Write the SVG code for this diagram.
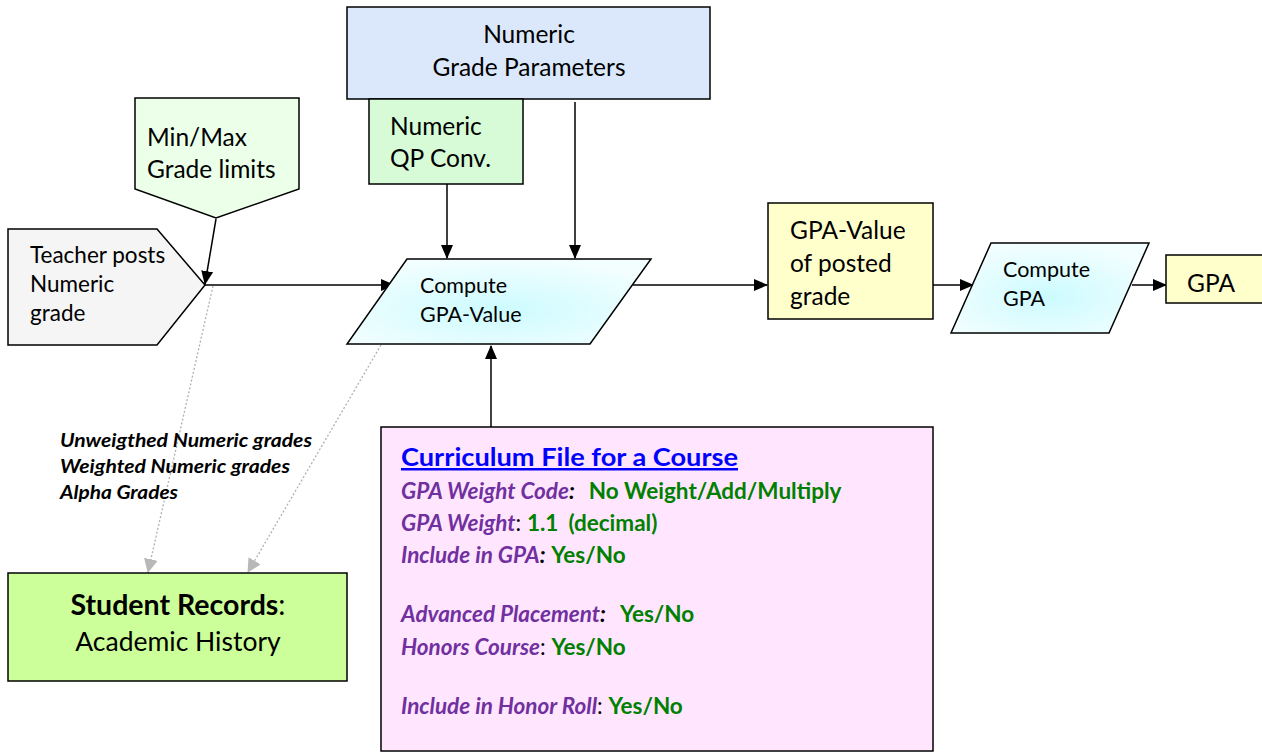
<svg xmlns="http://www.w3.org/2000/svg" width="1262" height="752" viewBox="0 0 1262 752">
<style>
text{font-family:Lato,"Open Sans","Liberation Sans",sans-serif;fill:#000}
.n{stroke:#000;stroke-width:1.5}
.c{stroke:#000;stroke-width:1.5;fill:none}
.d{stroke:#b0b0b0;stroke-width:1.3;stroke-dasharray:2 2;fill:none}
.t22{font-size:24.5px}
.t20{font-size:22.5px}
.t19{font-size:21.5px}
.lab{font-size:19px;font-weight:bold;font-style:italic}
.p{fill:#7030a0;font-style:italic;font-weight:bold}
.g{fill:#008000;font-weight:bold}
.cf{font-size:22.5px}
</style>
<defs>
<radialGradient id="cy" cx="0.5" cy="0.6" r="0.6">
<stop offset="0" stop-color="#ccfbff"/>
<stop offset="1" stop-color="#f2feff"/>
</radialGradient>
<marker id="ag" markerWidth="14" markerHeight="14" refX="13" refY="7" orient="auto" markerUnits="userSpaceOnUse" viewBox="0 0 14 14">
<path d="M0,0 L14,7 L0,14 z" fill="#b8b8b8"/>
</marker>
<marker id="ab" markerWidth="14" markerHeight="14" refX="13" refY="7" orient="auto" markerUnits="userSpaceOnUse" viewBox="0 0 14 14">
<path d="M0,1 L14,7 L0,13 z" fill="#000"/>
</marker>
</defs>

<g id="connectors">
<line class="c" x1="447" y1="184" x2="447" y2="258" marker-end="url(#ab)"/>
<line class="c" x1="575" y1="102" x2="575" y2="258" marker-end="url(#ab)"/>
<line class="c" x1="216" y1="219" x2="205" y2="284" marker-end="url(#ab)"/>
<line class="c" x1="205" y1="285" x2="394" y2="285" marker-end="url(#ab)"/>
<line class="c" x1="633" y1="285" x2="767" y2="285" marker-end="url(#ab)"/>
<line class="c" x1="933" y1="285" x2="973" y2="285" marker-end="url(#ab)"/>
<line class="c" x1="1132" y1="285" x2="1166" y2="285" marker-end="url(#ab)"/>
<line class="c" x1="491" y1="427" x2="491" y2="346" marker-end="url(#ab)"/>
<line class="d" x1="213" y1="286" x2="148" y2="572" marker-end="url(#ag)"/>
<line class="d" x1="381" y1="345" x2="248" y2="572" marker-end="url(#ag)"/>
</g>

<g id="grade-params">
<rect class="n" x="347" y="7" width="363" height="92" fill="#dbe8fb"/>
<text class="t22" x="529" y="43" text-anchor="middle">Numeric</text>
<text class="t22" x="529" y="76" text-anchor="middle">Grade Parameters</text>
</g>

<g id="qp-conv">
<rect class="n" x="369" y="99" width="154" height="85" fill="#d6fbd6"/>
<text class="t22" x="390" y="135">Numeric</text>
<text class="t22" x="390" y="167">QP Conv.</text>
</g>

<g id="minmax">
<path class="n" d="M135,98 L299,98 L299,189 L216,218 L135,189 Z" fill="#ebffe9"/>
<text class="t22" x="147" y="146">Min/Max</text>
<text class="t22" x="147" y="178">Grade limits</text>
</g>

<g id="teacher">
<path class="n" d="M8,229 L157,229 L205,285 L157,345 L8,345 Z" fill="#f5f5f5"/>
<text class="t20" x="30" y="263">Teacher posts</text>
<text class="t20" x="30" y="292">Numeric</text>
<text class="t20" x="30" y="321">grade</text>
</g>

<g id="compute-gpa-value">
<path class="n" d="M407,259 L651,259 L590,344 L347,344 Z" fill="url(#cy)"/>
<text class="t19" x="420" y="293">Compute</text>
<text class="t19" x="420" y="322">GPA-Value</text>
</g>

<g id="gpa-value">
<rect class="n" x="768" y="203" width="165" height="116" fill="#ffffcc"/>
<text class="t22" x="790" y="239">GPA-Value</text>
<text class="t22" x="790" y="272">of posted</text>
<text class="t22" x="790" y="305">grade</text>
</g>

<g id="compute-gpa">
<path class="n" d="M991,243 L1149,243 L1109,333 L951,333 Z" fill="url(#cy)"/>
<text class="t19" x="1003" y="277">Compute</text>
<text class="t19" x="1003" y="306">GPA</text>
</g>

<g id="gpa">
<rect class="n" x="1166" y="255" width="110" height="48" fill="#ffffcc"/>
<text class="t22" x="1187" y="292">GPA</text>
</g>

<g id="history-label">
<text class="lab" x="60" y="447" textLength="252" lengthAdjust="spacingAndGlyphs">Unweigthed Numeric grades</text>
<text class="lab" x="60" y="473" textLength="230" lengthAdjust="spacingAndGlyphs">Weighted Numeric grades</text>
<text class="lab" x="60" y="499" textLength="118" lengthAdjust="spacingAndGlyphs">Alpha Grades</text>
</g>

<g id="student-records">
<rect class="n" x="8" y="573" width="339" height="108" fill="#ccff99"/>
<text x="178" y="615" text-anchor="middle" style="font-size:28.5px"><tspan font-weight="bold">Student Records</tspan>:</text>
<text x="178" y="651" text-anchor="middle" style="font-size:26.5px">Academic History</text>
</g>

<g id="curriculum">
<rect class="n" x="381" y="427" width="552" height="324" fill="#ffe6fe"/>
<text x="401" y="466" textLength="337" lengthAdjust="spacingAndGlyphs" style="font-size:25px;font-weight:bold;fill:#0000ff;text-decoration:underline">Curriculum File for a Course</text>
<text class="cf" x="401" y="499"><tspan class="p">GPA Weight Code</tspan><tspan font-weight="bold" font-style="italic">:</tspan><tspan class="g" dx="14">No Weight/Add/Multiply</tspan></text>
<text class="cf" x="401" y="531"><tspan class="p">GPA Weight</tspan>: <tspan class="g">1.1</tspan><tspan class="g" dx="10">(decimal)</tspan></text>
<text class="cf" x="401" y="563"><tspan class="p">Include in GPA</tspan><tspan font-weight="bold" font-style="italic">:</tspan> <tspan class="g">Yes/No</tspan></text>
<text class="cf" x="401" y="622"><tspan class="p">Advanced Placement</tspan><tspan font-weight="bold" font-style="italic">:</tspan><tspan class="g" dx="14">Yes/No</tspan></text>
<text class="cf" x="401" y="655"><tspan class="p">Honors Course</tspan>: <tspan class="g">Yes/No</tspan></text>
<text class="cf" x="401" y="714"><tspan class="p">Include in Honor Roll</tspan>: <tspan class="g">Yes/No</tspan></text>
</g>
</svg>
